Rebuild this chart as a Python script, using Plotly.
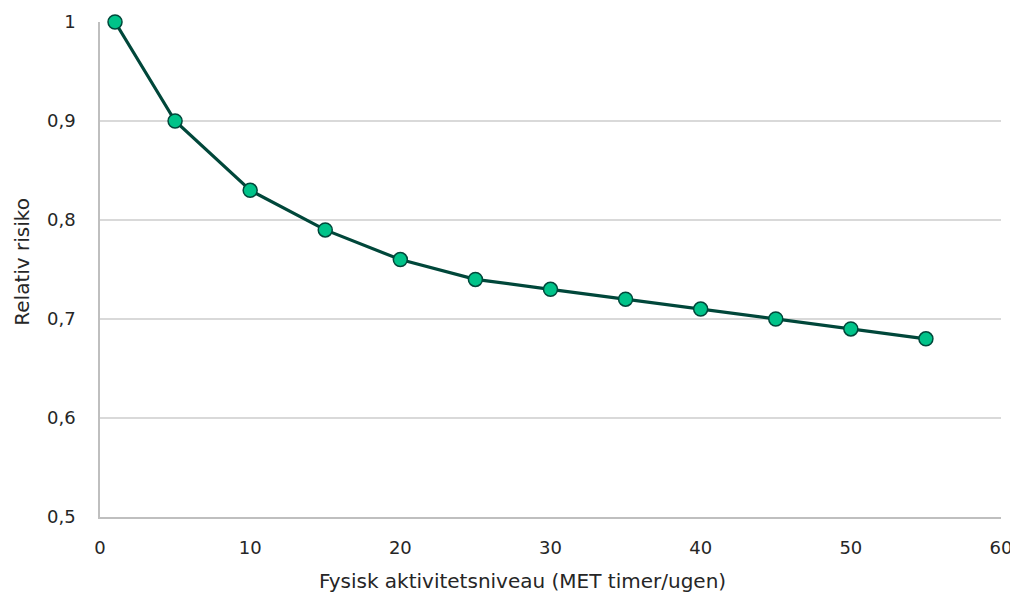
import plotly.graph_objects as go

met = [1, 5, 10, 15, 20, 25, 30, 35, 40, 45, 50, 55]
risk = [1.0, 0.90, 0.83, 0.79, 0.76, 0.74, 0.73, 0.72, 0.71, 0.70, 0.69, 0.68]
x_ticks = [0, 10, 20, 30, 40, 50, 60]
y_ticks = [0.5, 0.6, 0.7, 0.8, 0.9, 1.0]
y_labels = ["0,5", "0,6", "0,7", "0,8", "0,9", "1"]
x_title = "Fysisk aktivitetsniveau (MET timer/ugen)"
y_title = "Relativ risiko"

fig = go.Figure()
fig.add_trace(go.Scatter(
    x=met, y=risk, mode="lines+markers",
    line=dict(color="#00473a", width=3.2),
    marker=dict(size=14, color="#00c389", line=dict(color="#00473a", width=1.5)),
    showlegend=False, cliponaxis=False,
))

font = dict(family="DejaVu Sans, Open Sans, sans-serif", size=18, color="#262626")
title_font = dict(family="DejaVu Sans, Open Sans, sans-serif", size=20, color="#262626")
fig.update_layout(
    width=1018, height=597,
    margin=dict(l=92, r=25, t=14, b=88),
    paper_bgcolor="white", plot_bgcolor="white",
    font=font,
    xaxis=dict(
        range=[0, 60], tickvals=x_ticks,
        showgrid=False, zeroline=False, automargin=False,
        showline=True, linecolor="#bfbfbf", linewidth=1.5,
        ticks="outside", ticklen=14, tickcolor="rgba(0,0,0,0)",
    ),
    yaxis=dict(
        range=[0.5, 1.0], tickvals=y_ticks, ticktext=y_labels,
        showgrid=True, gridcolor="#d9d9d9", gridwidth=1.5, automargin=False,
        zeroline=False, showline=True, linecolor="#bfbfbf", linewidth=1.5,
        ticks="outside", ticklen=19, tickcolor="rgba(0,0,0,0)",
    ),
    annotations=[
        dict(text=x_title, xref="paper", yref="paper", x=0.469, y=-0.129,
             xanchor="center", yanchor="middle", showarrow=False, font=title_font),
        dict(text=y_title, xref="paper", yref="paper", x=-0.087, y=0.515,
             xanchor="center", yanchor="middle", textangle=-90, showarrow=False, font=title_font),
    ],
)
fig.write_html("out.html")
